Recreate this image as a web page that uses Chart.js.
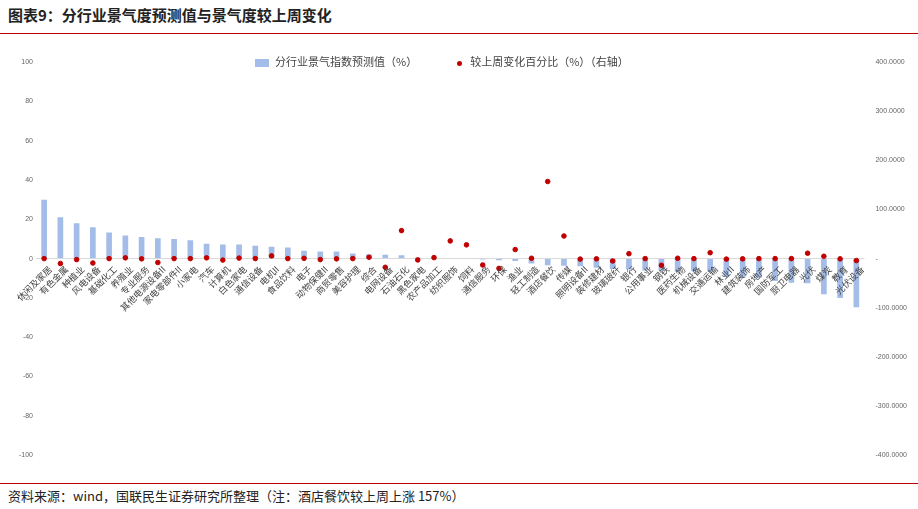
<!DOCTYPE html>
<html><head><meta charset="utf-8">
<script src="https://cdn.jsdelivr.net/npm/chart.js@4"></script>
<style>
body{margin:0;background:#fff;font-family:"Noto Sans CJK SC",sans-serif;}
#title{position:absolute;left:8px;top:4px;font-size:15px;font-weight:bold;color:#222;}
#tl{position:absolute;left:0;top:33px;width:918px;height:1px;background:#c00000;}
#bl{position:absolute;left:0;top:483px;width:918px;height:1px;background:#c00000;}
#foot{position:absolute;left:8px;top:486px;font-size:13px;color:#222;}
#wrap{position:absolute;left:0;top:55px;width:918px;height:408px;}
#leg{position:absolute;top:53px;left:255px;font-size:11px;color:#444;white-space:nowrap;}
#leg span.b{display:inline-block;width:14px;height:8px;background:#a4bde8;margin-right:6px;vertical-align:middle;}
#leg span.d{display:inline-block;width:5px;height:5px;border-radius:50%;background:#c00000;margin:0 8px 0 40px;vertical-align:middle;}
</style></head><body>
<div id="title">图表9：分行业景气度预测值与景气度较上周变化</div>
<div id="tl"></div>
<div id="wrap"><canvas id="c" width="918" height="408"></canvas></div>
<div id="leg"><span class="b"></span>分行业景气指数预测值（%）<span class="d"></span>较上周变化百分比（%）（右轴）</div>
<div id="bl"></div>
<div id="foot">资料来源：wind，国联民生证券研究所整理（注：酒店餐饮较上周上涨 157%）</div>
<script>
const categories=["休闲及家居","有色金属","种植业","风电设备","基础化工","养殖业","专业服务","其他电源设备II","家电零部件II","小家电","汽车","计算机","白色家电","通信设备","电机II","食品饮料","电子","动物保健II","商贸零售","美容护理","综合","电网设备","石油石化","黑色家电","农产品加工","纺织服饰","饲料","通信服务","环保","渔业","轻工制造","酒店餐饮","传媒","照明设备II","装修建材","玻璃玻纤","银行","公用事业","钢铁","医药生物","机械设备","交通运输","林业II","建筑装饰","房地产","国防军工","厨卫电器","光伏","煤炭","教育","光伏设备"];
const forecast=[30,21,18,16,13.3,11.7,11,10.3,10,9.3,7.6,7.2,7.2,6.5,6,5.6,4,3.6,3.6,2.6,2.2,2,1.7,0.5,0.3,0.3,0.3,-0.5,-0.8,-1.2,-2.5,-3.4,-3.6,-3.9,-4.6,-5.3,-5.6,-6,-6,-6.5,-6.5,-6.6,-9.2,-9.7,-9.7,-11.4,-12.3,-12.6,-18.2,-20,-24.8];
const weekChange=[0,-10,-2,-9,0,1.5,-0.5,-8,0,0,1.5,-3,1,0,5.5,0,0.5,-2,-0.5,0,2.7,-17.7,57,-2.7,2,36,28,-13,-20,18.4,0.7,157,46,-1,-0.5,-4.8,10,0,-13.6,0.7,0,12,-1,-0.5,0,0,0,11,4.8,-0.5,-4];
const leftTicks=[100,80,60,40,20,0,-20,-40,-60,-80,-100];
const labelPlugin={id:'xl',afterDatasetsDraw(ch){
  const ctx=ch.ctx,x=ch.scales.x,y=ch.scales.y,y0=y.getPixelForValue(0);
  ctx.save();ctx.font='9px "Noto Sans CJK SC"';ctx.fillStyle='#444';ctx.textAlign='right';ctx.textBaseline='middle';
  categories.forEach((c,i)=>{const px=x.getPixelForValue(i);ctx.save();ctx.translate(px+6,y0+9);ctx.rotate(-Math.PI/4);ctx.fillText(c,0,0);ctx.restore();});
  ctx.restore();}};
new Chart(document.getElementById('c'),{
 data:{labels:categories,datasets:[
  {type:'scatter',label:'较上周变化百分比（%）（右轴）',data:weekChange.map((v,i)=>({x:i,y:v})),yAxisID:'y2',xAxisID:'x',backgroundColor:'#c00000',borderColor:'#c00000',pointRadius:2.3,order:0},
  {type:'bar',label:'分行业景气指数预测值（%）',data:forecast,yAxisID:'y',backgroundColor:'#a4bde8',barPercentage:0.35,categoryPercentage:1,order:1}
 ]},
 plugins:[labelPlugin],
 options:{responsive:false,animation:false,maintainAspectRatio:false,
  layout:{padding:{left:16,right:8,top:4,bottom:0}},
  plugins:{legend:{display:false},tooltip:{enabled:false}},
  scales:{
   x:{type:'category',offset:true,ticks:{display:false},grid:{display:false},border:{display:false}},
   y:{position:'left',min:-100,max:100,afterBuildTicks(s){s.ticks=leftTicks.map(v=>({value:v}));},ticks:{font:{size:7},color:'#666'},grid:{display:true,drawTicks:false,color:c=>c.tick.value===0?'#d9d9d9':'transparent'},border:{display:false}},
   y2:{position:'right',min:-400,max:400,ticks:{stepSize:100,font:{size:7},color:'#666',callback:v=>v===0?'-':v.toFixed(4)},grid:{display:false},border:{display:false}}
  }}
});
</script>
</body></html>
